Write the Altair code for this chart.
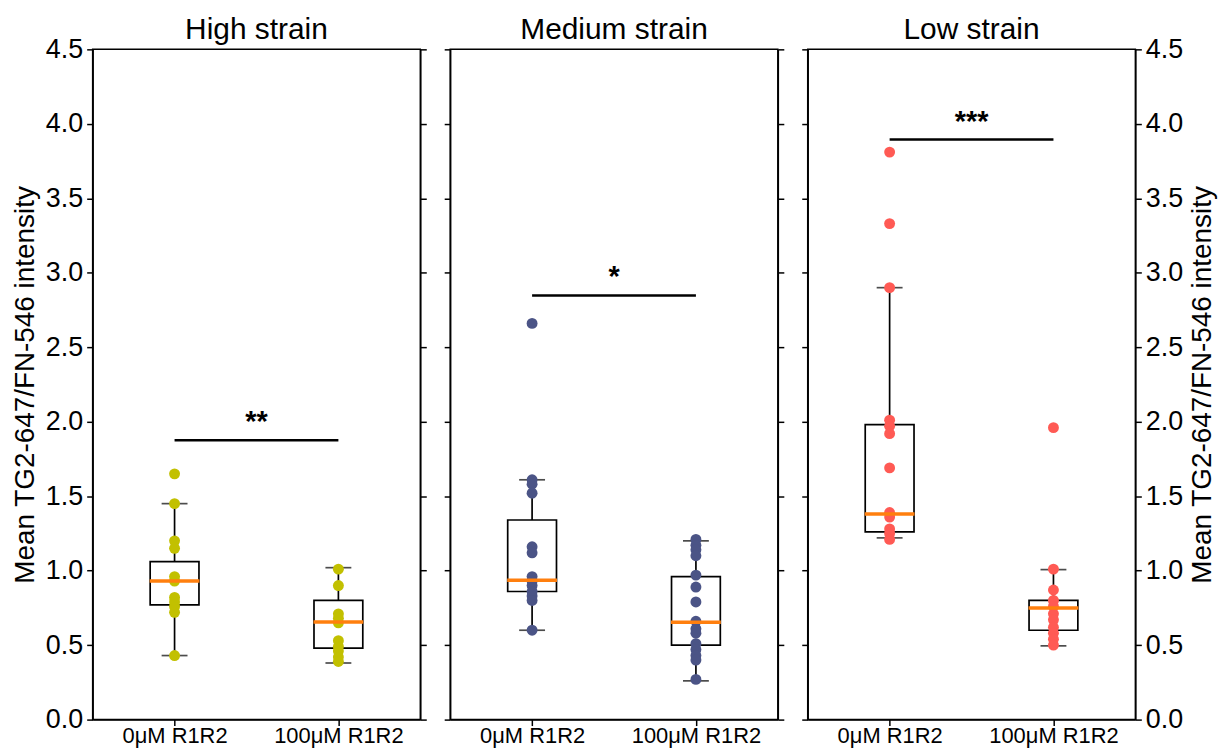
import altair as alt
import pandas as pd

FONT = "Liberation Sans"

panels = ["High strain", "Medium strain", "Low strain"]
conditions = ["0μM R1R2", "100μM R1R2"]
point_colors = ["#c2c000", "#4b5486", "#ff5a54"]
y_title = "Mean TG2-647/FN-546 intensity"
y_ticks = [0.0, 0.5, 1.0, 1.5, 2.0, 2.5, 3.0, 3.5, 4.0, 4.5]

high_0 = [1.65, 1.45, 1.20, 1.15, 0.96, 0.93, 0.82, 0.79, 0.76, 0.72, 0.43]
high_100 = [1.01, 0.90, 0.71, 0.68, 0.65, 0.53, 0.49, 0.46, 0.42, 0.39]
med_0 = [2.66, 1.61, 1.58, 1.52, 1.16, 1.12, 0.96, 0.93, 0.90, 0.86, 0.83, 0.80, 0.60]
med_100 = [1.21, 1.17, 1.14, 1.10, 0.97, 0.89, 0.79, 0.66, 0.61, 0.58, 0.51, 0.47, 0.43, 0.40, 0.27]
low_0 = [3.81, 3.33, 2.90, 2.01, 1.97, 1.92, 1.69, 1.39, 1.36, 1.28, 1.25, 1.21]
low_100 = [1.96, 1.01, 0.87, 0.80, 0.76, 0.71, 0.67, 0.62, 0.58, 0.54, 0.50]
series = [[high_0, high_100], [med_0, med_100], [low_0, low_100]]

# box statistics per panel: [0uM, 100uM]
box_q1 = [[0.77, 0.48], [0.86, 0.50], [1.26, 0.60]]
box_median = [[0.93, 0.655], [0.935, 0.653], [1.38, 0.75]]
box_q3 = [[1.06, 0.80], [1.34, 0.96], [1.98, 0.80]]
whisker_low = [[0.43, 0.38], [0.60, 0.26], [1.22, 0.495]]
whisker_high = [[1.45, 1.02], [1.61, 1.20], [2.90, 1.007]]

sig_y = [1.875, 2.848, 3.895]
sig_labels = ["**", "*", "***"]

W, H = 329, 673
yscale = alt.Scale(domain=[0, 4.5], nice=False, zero=False)
xscale = alt.Scale(type="point", padding=0.5, domain=conditions)

x_axis = alt.Axis(title=None, labelAngle=0, labelFontSize=22, labelFont=FONT,
                  labelColor="black", tickSize=6, tickWidth=1.5, tickColor="black",
                  domainColor="black", domainWidth=1.5, labelPadding=0, grid=False)


def y_axis(orient, show, ghost=False):
    kw = dict(orient=orient, values=y_ticks, format=".1f", labels=show or ghost,
              tickSize=6, tickWidth=1.5, tickColor="black", domainColor="black",
              domainWidth=1.5, labelFontSize=27, labelFont=FONT, labelColor="black",
              labelPadding=4, grid=False, titleFont=FONT, titleFontSize=28,
              titleFontWeight="normal", titleColor="black", titlePadding=6)
    if ghost:
        kw["labelOpacity"] = 0
    if show:
        kw["title"] = y_title
        if orient == "right":
            kw["titleAngle"] = 270
            kw["titleBaseline"] = "top"
    else:
        kw["title"] = None
    return alt.Axis(**kw)


def panel(i):
    rows = []
    for c, vals in zip(conditions, series[i]):
        for v in vals:
            rows.append({"condition": c, "value": v})
    pdf = pd.DataFrame(rows)
    bdf = pd.DataFrame({
        "condition": conditions,
        "q1": box_q1[i], "median": box_median[i], "q3": box_q3[i],
        "wlo": whisker_low[i], "whi": whisker_high[i],
    })
    sdf = pd.DataFrame({"c0": [conditions[0]], "c1": [conditions[1]],
                        "sig": [sig_y[i]], "label": [sig_labels[i]]})

    left = y_axis("left", i == 0, ghost=(i == 1))
    right = y_axis("right", i == 2)
    x = alt.X("condition:N", scale=xscale, axis=x_axis)

    def Y(f):
        return alt.Y(f, type="quantitative", scale=yscale, axis=left)

    whisk = alt.Chart(bdf).mark_rule(color="black", strokeWidth=1.7).encode(
        x=x, y=Y("wlo"), y2="whi")
    box = alt.Chart(bdf).mark_bar(size=49, fill="white", stroke="black",
                                  strokeWidth=1.7).encode(x=x, y=Y("q1"), y2="q3")
    cap_lo = alt.Chart(bdf).mark_tick(size=26, thickness=1.7, color="black").encode(
        x=x, y=Y("wlo"))
    cap_hi = alt.Chart(bdf).mark_tick(size=26, thickness=1.7, color="black").encode(
        x=x, y=Y("whi"))
    pts = alt.Chart(pdf).mark_circle(size=120, opacity=1, color=point_colors[i]).encode(
        x=x, y=Y("value"))
    med = alt.Chart(bdf).mark_tick(size=50, thickness=3.5, color="#ff7f0e",
                                   opacity=1).encode(x=x, y=Y("median"))
    sig_rule = alt.Chart(sdf).mark_rule(color="black", strokeWidth=2.5).encode(
        x=alt.X("c0:N", scale=xscale, axis=x_axis), x2="c1", y=Y("sig"))
    sig_txt = alt.Chart(sdf).mark_text(font=FONT, fontSize=29, fontWeight="bold",
                                       baseline="alphabetic", dy=-9,
                                       color="black").encode(
        x=alt.value(W / 2), y=Y("sig"), text="label:N")

    inner = alt.layer(whisk, box, cap_lo, cap_hi, pts, med, sig_rule, sig_txt)
    axis_layer = alt.Chart(sdf).mark_point(opacity=0).encode(
        y=alt.Y("sig:Q", scale=yscale, axis=right))
    return alt.layer(inner, axis_layer).resolve_axis(y="independent").properties(
        width=W, height=H,
        title=alt.TitleParams(panels[i], fontSize=30, font=FONT, fontWeight="normal",
                              color="black", offset=-10, anchor="middle", frame="group"))


chart = alt.hconcat(panel(0), panel(1), panel(2), spacing=30, bounds="flush").properties(
    padding={"left": 2, "top": 5, "right": 5, "bottom": 0}
).configure_view(stroke="black", strokeWidth=1.5)

chart.save("out.html", embed_options={"renderer": "svg", "actions": False})
